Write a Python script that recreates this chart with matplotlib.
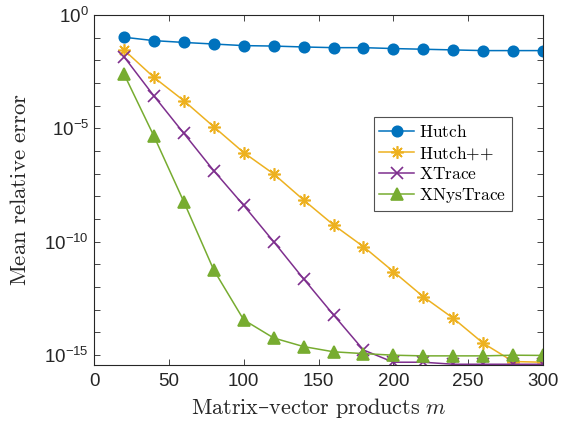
import numpy as np
import matplotlib
matplotlib.use("Agg")
import matplotlib.pyplot as plt
from matplotlib.ticker import FixedLocator, FuncFormatter

# tick labels in a Helvetica-like font, axis labels / legend in Computer Modern
plt.rcParams['font.family'] = ['Liberation Sans', 'DejaVu Sans']
plt.rcParams['mathtext.fontset'] = 'custom'
plt.rcParams['mathtext.rm'] = 'Liberation Sans'
plt.rcParams['mathtext.it'] = 'Liberation Sans:italic'

# matrix-vector products
m = [20, 40, 60, 80, 100, 120, 140, 160, 180, 200, 220, 240, 260, 280, 300]

# log10 of the mean relative error
hutch_log = [-0.98, -1.13, -1.21, -1.28, -1.35, -1.37, -1.41, -1.44, -1.44,
             -1.48, -1.51, -1.54, -1.57, -1.57, -1.57]
hutchpp_log = [-1.54, -2.75, -3.78, -4.93, -6.07, -7.01, -8.16, -9.26, -10.22,
               -11.32, -12.43, -13.38, -14.48, -15.29, -15.32]
xtrace_log = [-1.84, -3.57, -5.22, -6.87, -8.40, -10.0, -11.64, -13.23, -14.78,
              -15.32, -15.32, -15.41, -15.41, -15.41, -15.41]
xnys_log = [-2.60, -5.34, -8.24, -11.25, -13.45, -14.25, -14.63, -14.86, -14.94,
            -15.01, -15.04, -15.04, -15.04, -15.01, -15.02]

names = ["Hutch", "Hutch{+}{+}", "XTrace", "XNysTrace"]
colors = ["#0072BD", "#EDB120", "#7E2F8E", "#77AC30"]

fig = plt.figure(figsize=(5.61, 4.23), dpi=100)
ax = fig.add_axes([0.1676, 0.1378, 0.8004, 0.8267])

styles = [dict(marker='o', ms=7.5), dict(marker=(8, 2, 0), ms=9),
          dict(marker='x', ms=8), dict(marker='^', ms=8)]
for name, vals, col, st in zip(names, [hutch_log, hutchpp_log, xtrace_log, xnys_log],
                               colors, styles):
    ax.plot(m, 10.0 ** np.array(vals), color=col, lw=1.1, mew=1.2,
            label=r'$\mathrm{%s}$' % name, **st)

ax.set_yscale('log')
ax.set_xlim(0, 300)
ax.set_ylim(10 ** -15.43, 1)

ax.xaxis.set_major_locator(FixedLocator([0, 50, 100, 150, 200, 250, 300]))
ax.yaxis.set_major_locator(FixedLocator([10.0 ** k for k in range(-15, 1)]))
ax.yaxis.set_minor_locator(FixedLocator([]))


def ylab(v, pos):
    k = int(round(np.log10(v)))
    if k % 5 == 0:
        return r'$10^{%d}$' % k
    return ''


ax.yaxis.set_major_formatter(FuncFormatter(ylab))

ax.tick_params(which='both', direction='in', top=True, right=True,
               labelsize=13.5, length=4, width=0.6, colors='#262626')
ax.tick_params(axis='x', pad=6)
for sp in ax.spines.values():
    sp.set_linewidth(0.8)
    sp.set_color('#262626')

ax.set_xlabel(r'$\mathrm{Matrix}$–$\mathrm{vector\ products}\ m$', fontsize=16,
              color='#262626', math_fontfamily='cm', family='DejaVu Serif')
ax.set_ylabel(r'$\mathrm{Mean\ relative\ error}$', fontsize=16.5,
              color='#262626', math_fontfamily='cm', labelpad=10)

leg = ax.legend(loc='upper left', bbox_to_anchor=(0.624, 0.707),
                prop={'size': 12.5, 'math_fontfamily': 'cm'},
                frameon=True, fancybox=False, edgecolor='#262626',
                handlelength=2.0, handletextpad=0.3, borderpad=0.3,
                labelspacing=0.25, borderaxespad=0)
leg.get_frame().set_linewidth(0.8)

fig.savefig('out.png', dpi=100)
